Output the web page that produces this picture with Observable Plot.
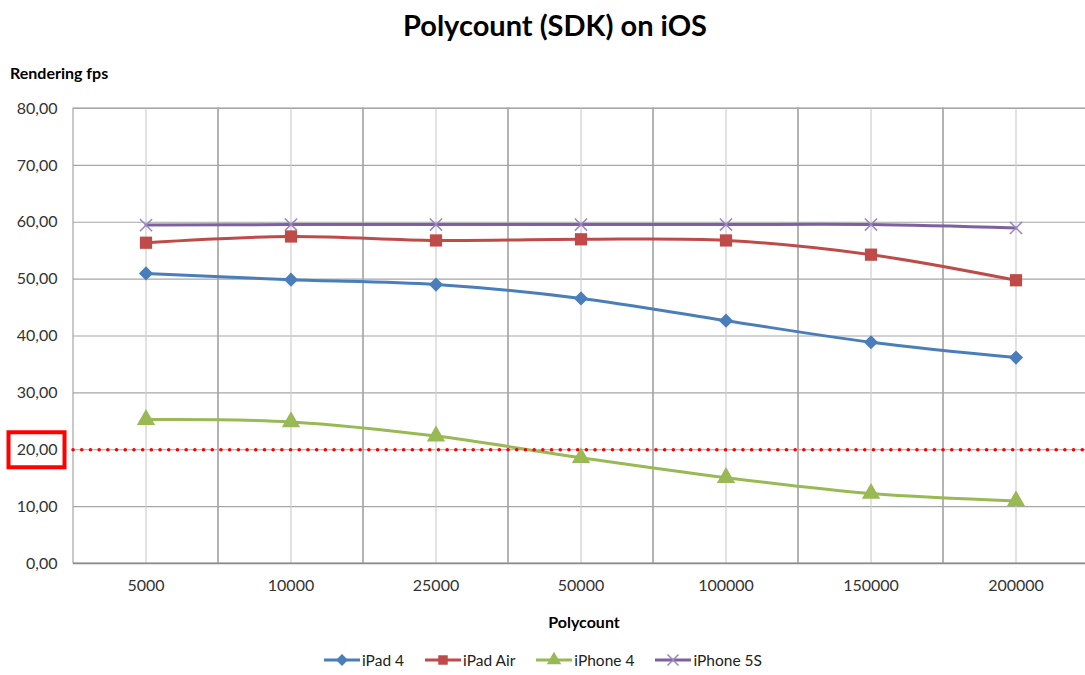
<!DOCTYPE html>
<html>
<head>
<meta charset="utf-8">
<script src="https://cdn.jsdelivr.net/npm/d3@7"></script>
<script src="https://cdn.jsdelivr.net/npm/@observablehq/plot@0.6"></script>
<style>
  body { margin: 0; background: #fff; font-family: Lato, "Open Sans", sans-serif; }
  #wrap { position: relative; width: 1085px; height: 675px; }
  #title { height: 50px; line-height: 50px; text-align: center; font-weight: bold; font-size: 29px; color: #000; padding-left: 25px; }
  #ylab { position: absolute; left: 10px; top: 63px; font-weight: bold; font-size: 16px; color: #000; }
  #xlab { position: absolute; left: 484px; width: 200px; top: 612px; text-align: center; font-weight: bold; font-size: 16px; color: #000; }
  #legend { position: absolute; left: 0; top: 651px; width: 1085px; display: flex; justify-content: center; align-items: center; font-size: 15.5px; color: #222; }
  .item { display: flex; align-items: center; margin: 0 10px; }
  .item svg { margin-right: 1px; }
</style>
</head>
<body>
<div id="wrap">
  <div id="title">Polycount (SDK) on iOS</div>
  <div id="chart"></div>
  <div id="ylab">Rendering fps</div>
  <div id="xlab">Polycount</div>
  <div id="legend"></div>
</div>
<script>
const categories = ["5000", "10000", "25000", "50000", "100000", "150000", "200000"];
const seriesNames = ["iPad 4", "iPad Air", "iPhone 4", "iPhone 5S"];
const ipad4 = [51.0, 49.9, 49.05, 46.6, 42.7, 38.9, 36.2];
const ipadAir = [56.4, 57.5, 56.8, 57.0, 56.8, 54.3, 49.8];
const iphone4 = [25.3, 24.9, 22.4, 18.6, 15.1, 12.3, 11.0];
const iphone5s = [59.5, 59.6, 59.6, 59.6, 59.6, 59.6, 59.0];
const threshold = 20;
const yTicks = [0, 10, 20, 30, 40, 50, 60, 70, 80];

const colors = ["#4a7ebb", "#be4b48", "#98b954", "#7d60a0"];
const symbols = ["diamond2", "square", "triangle", "times"];
const sizes = [6.4, 6.9, 6.8, 5.6];
const allValues = [ipad4, ipadAir, iphone4, iphone5s];

const data = [];
seriesNames.forEach((s, i) => {
  categories.forEach((c, j) => data.push({series: s, cat: c, value: allValues[i][j]}));
});

const fmt = d => d.toFixed(2).replace(".", ",");

const marks = [
  Plot.ruleY(yTicks, {y: d => d, stroke: "#a6a6a6", strokeWidth: 1.2}),
  Plot.ruleX(categories, {x: d => d, stroke: "#cfcfcf", strokeWidth: 1.2}),
  Plot.cell(categories, {x: d => d, fill: "none", stroke: "#a6a6a6", strokeWidth: 1.2, inset: 0}),
  Plot.ruleY([0], {stroke: "#8c8c8c", strokeWidth: 1.5})
];
seriesNames.forEach((s, i) => {
  const rows = data.filter(d => d.series === s);
  marks.push(Plot.line(rows, {x: "cat", y: "value", stroke: colors[i], strokeWidth: 3, curve: "catmull-rom"}));
});
seriesNames.forEach((s, i) => {
  const rows = data.filter(d => d.series === s);
  const filled = symbols[i] !== "times";
  marks.push(Plot.dot(rows, {x: "cat", y: "value", symbol: () => symbols[i], r: sizes[i],
    fill: filled ? colors[i] : "none", stroke: filled ? "none" : "#9b85bd", strokeWidth: 1.5}));
});
marks.push(Plot.ruleY([threshold], {stroke: "#ff0000", strokeWidth: 3.5, strokeDasharray: "0.1,8.6", strokeLinecap: "round"}));
marks.push((index, scales, values, dims) => {
  const y = scales.y(threshold);
  const r = document.createElementNS("http://www.w3.org/2000/svg", "rect");
  r.setAttribute("x", dims.marginLeft - 64.5);
  r.setAttribute("y", y - 17);
  r.setAttribute("width", 56);
  r.setAttribute("height", 35);
  r.setAttribute("fill", "none");
  r.setAttribute("stroke", "#ff0000");
  r.setAttribute("stroke-width", 4);
  return r;
});

const chart = Plot.plot({
  width: 1085,
  height: 598,
  marginTop: 58,
  marginBottom: 85,
  marginLeft: 73,
  marginRight: 0,
  style: {fontFamily: "Lato, 'Open Sans', sans-serif", fontSize: "16px", color: "#333"},
  x: {type: "band", domain: categories, range: [73, 1088], padding: 0, label: null, tickSize: 0, tickPadding: 16},
  y: {domain: [0, 80], ticks: yTicks, tickFormat: fmt, label: null, tickSize: 0, tickPadding: 16},
  symbol: {type: "identity"},
  marks
});
document.getElementById("chart").appendChild(chart);

const legend = document.getElementById("legend");
const symMap = {diamond2: d3.symbolDiamond2, square: d3.symbolSquare, triangle: d3.symbolTriangle, times: d3.symbolTimes};
seriesNames.forEach((s, i) => {
  const item = document.createElement("div");
  item.className = "item";
  const svg = d3.create("svg").attr("width", 38).attr("height", 16);
  svg.append("line").attr("x1", 1).attr("x2", 37).attr("y1", 8).attr("y2", 8).attr("stroke", colors[i]).attr("stroke-width", 3);
  const filled = symbols[i] !== "times";
  svg.append("path").attr("transform", "translate(19,8)")
    .attr("d", d3.symbol(symMap[symbols[i]], filled ? 90 : 80)())
    .attr("fill", filled ? colors[i] : "none")
    .attr("stroke", filled ? "none" : "#9b85bd").attr("stroke-width", 1.5);
  item.appendChild(svg.node());
  const t = document.createElement("span");
  t.textContent = s;
  item.appendChild(t);
  legend.appendChild(item);
});
</script>
</body>
</html>
